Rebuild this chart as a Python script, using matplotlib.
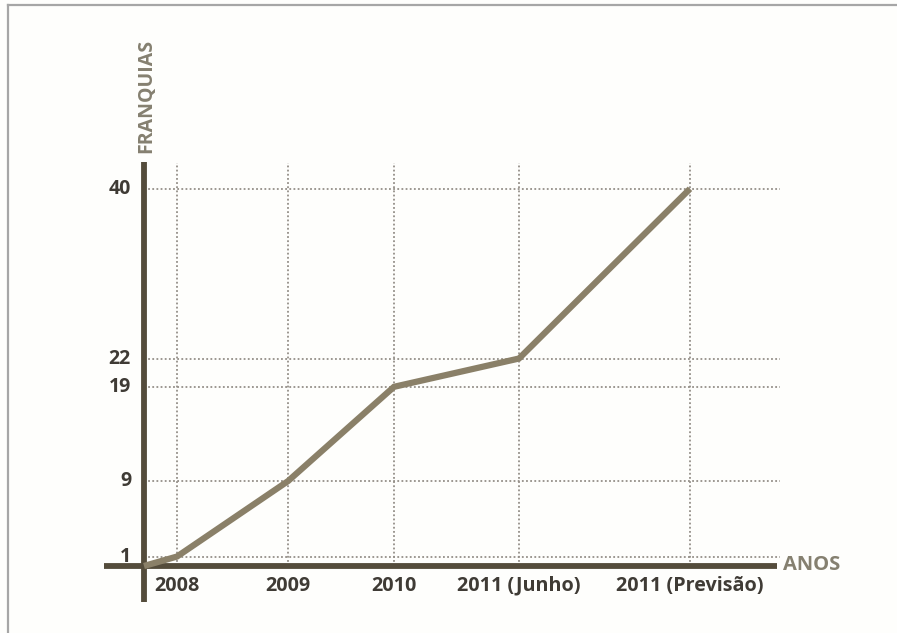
import matplotlib.pyplot as plt
from matplotlib.lines import Line2D

# data
anos = ["2008", "2009", "2010", "2011 (Junho)", "2011 (Previsão)"]
x_anos = [0.33, 1.44, 2.50, 3.75, 5.46]
franquias = [1, 9, 19, 22, 40]
y_ticks = [1, 9, 19, 22, 40]

axis_col = "#544c3b"
line_col = "#8a8068"
text_col = "#3f3b35"
label_col = "#858070"
grid_col = "#948f88"

plt.rcParams["font.family"] = ["Open Sans", "DejaVu Sans"]

W, H = 897, 633
fig = plt.figure(figsize=(W / 100, H / 100), dpi=100)
fig.patch.set_facecolor("#fefefc")

# frame (only top and left edges are visible in the reference)
fig.add_artist(Line2D([8 / W, 8 / W], [0, 1 - 5 / H], color="#a6a6a6", lw=1.6))
fig.add_artist(Line2D([8 / W, 1], [1 - 5 / H, 1 - 5 / H], color="#a6a6a6", lw=1.6))

# axes mapped so that pixel positions line up with the reference
x0, x1 = 104, 780
ytop, ybot = 162, 602
ax = fig.add_axes([x0 / W, 1 - ybot / H, (x1 - x0) / W, (ybot - ytop) / H])
ax.set_xlim(-0.40, 6.36)
ax.set_ylim(-3.82, 42.84)
ax.axis("off")

dots = (0, (1, 1.3))
for y in y_ticks:
    ax.plot([0, 6.36], [y, y], color=grid_col, lw=1.3, ls=dots, zorder=1)
for x in x_anos:
    ax.plot([x, x], [0, 42.7], color=grid_col, lw=1.3, ls=dots, zorder=1)

# axes lines
ax.plot([-0.40, 6.33], [0, 0], color=axis_col, lw=4.2, solid_capstyle="butt", zorder=2)
ax.plot([0, 0], [-3.82, 42.84], color=axis_col, lw=4.2, solid_capstyle="butt", zorder=2)

# data line, starting from the origin
ax.plot([0] + x_anos, [0] + franquias, color=line_col, lw=4.5,
        solid_joinstyle="miter", solid_capstyle="butt", zorder=3)

for y in y_ticks:
    ax.text(-0.13, y, str(y), ha="right", va="center", fontsize=14,
            fontweight="bold", color=text_col)
for x, lab in zip(x_anos, anos):
    ax.text(x, -2.1, lab, ha="center", va="center", fontsize=14.2,
            fontweight="bold", color=text_col)

ax.text(6.39, 0.1, "ANOS", ha="left", va="center", fontsize=14.5,
        fontweight="bold", color=label_col)
ax.text(0.02, 43.8, "FRANQUIAS", ha="center", va="bottom", rotation=90,
        fontsize=14, fontweight="bold", color=label_col, clip_on=False)

fig.savefig("out.png", dpi=100, facecolor=fig.get_facecolor())
